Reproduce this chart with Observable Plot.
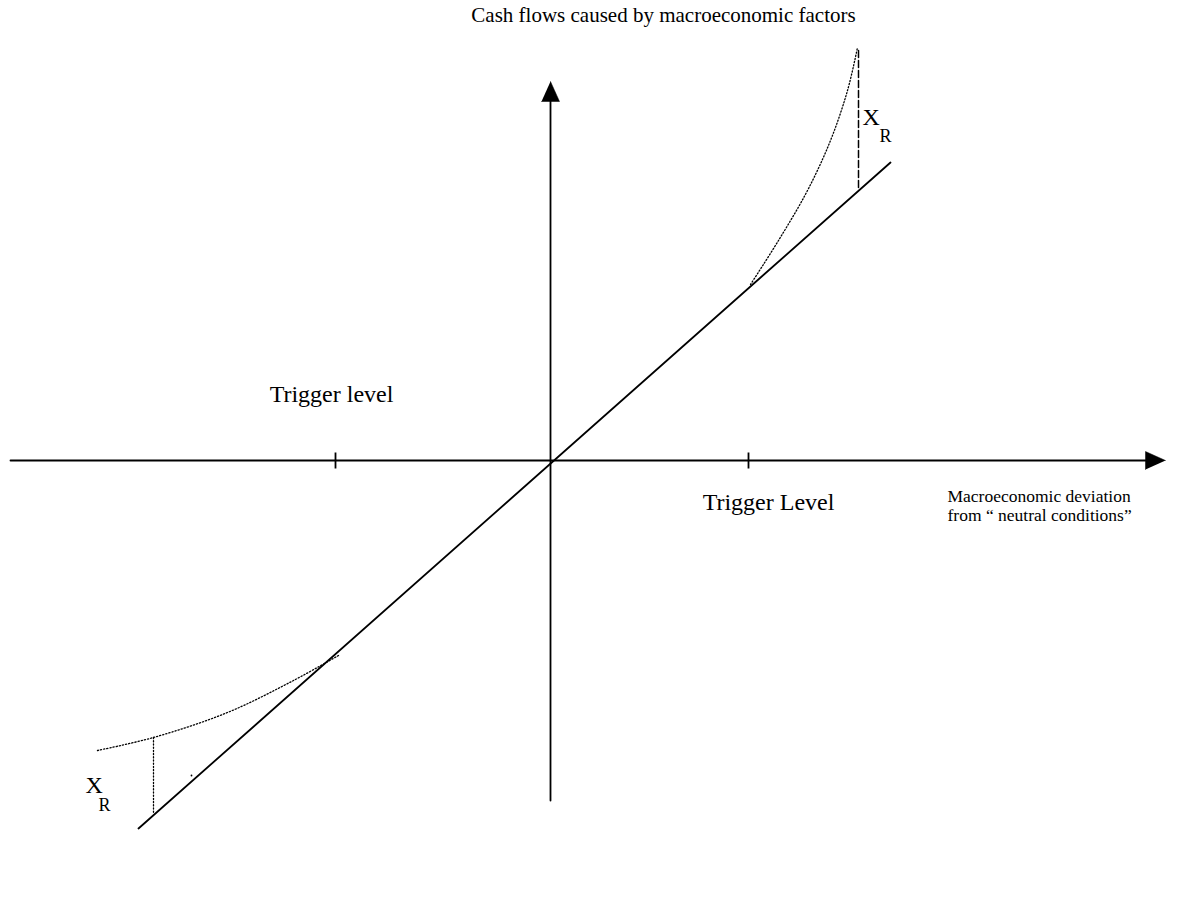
<!DOCTYPE html>
<html>
<head>
<meta charset="utf-8">
<script src="https://cdn.jsdelivr.net/npm/d3@7"></script>
<script src="https://cdn.jsdelivr.net/npm/@observablehq/plot@0.6"></script>
<style>
  html, body { margin: 0; padding: 0; background: #fff; }
  #chart svg { display: block; }
</style>
</head>
<body>
<div id="chart"></div>
<script>
// ---- Data (abstract units, origin at the crossing of the two axes) ----
const xDomain = [-550, 627];
const yDomain = [-449, 460];

// axes: [start, arrow tip]
const hAxisX = [-540, 615];
const vAxisY = [-340, 379];
const arrowLength = 20;
const arrowHalfWidth = 9;

// trigger level tick positions on the horizontal axis
const triggerX = [-215, 198];
const tickHalf = 8;

// linear (no hedge) cash-flow line
const linearX = [-412, 340];
const linearY = [-368, 298];

// upper (convex) dotted curve
const upperCurveX = [200, 228, 257, 280, 297, 307];
const upperCurveY = [176, 220, 270, 320, 370, 413];

// lower dotted curve
const lowerCurveX = [-453, -397, -323, -257, -212];
const lowerCurveY = [-290, -277, -252, -220, -195];

// X_R gap markers
const upperGapX = [308, 308];
const upperGapY = [273, 410];
const lowerGapX = [-397, -397];
const lowerGapY = [-277, -353];
const strayDot = [{x: -359, y: -315}];

// labels
const titleText = "Cash flows caused by macroeconomic factors";
const titlePos = {x: 113, y: 439};
const triggerLabels = ["Trigger level", "Trigger Level"];
const triggerLabelX = [-219, 218];
const triggerLabelY = [59, -49];
const axisLabel = "Macroeconomic deviation\nfrom \u201c neutral conditions\u201d";
const axisLabelPos = {x: 397, y: -60};
const xrLabels = [
  {x: 312, y: 336, s: "X", big: true},
  {x: 329, y: 319, s: "R", big: false},
  {x: -465, y: -332, s: "X", big: true},
  {x: -452, y: -350, s: "R", big: false}
];

// ---- Build tables ----
const pairs = (xs, ys) => xs.map((x, i) => ({x, y: ys[i]}));
const arrows = [
  {id: "h", pts: [
    {x: hAxisX[1], y: 0},
    {x: hAxisX[1] - arrowLength, y: arrowHalfWidth},
    {x: hAxisX[1] - arrowLength, y: -arrowHalfWidth}]},
  {id: "v", pts: [
    {x: 0, y: vAxisY[1]},
    {x: arrowHalfWidth, y: vAxisY[1] - arrowLength},
    {x: -arrowHalfWidth, y: vAxisY[1] - arrowLength}]}
].flatMap(a => a.pts.map(p => ({...p, id: a.id})));

const font = "Liberation Serif, Times New Roman, serif";

const chart = Plot.plot({
  width: 1177,
  height: 909,
  margin: 0,
  x: {domain: xDomain, axis: null},
  y: {domain: yDomain, axis: null},
  style: {fontFamily: font, background: "#fff", color: "#000"},
  marks: [
    // horizontal axis
    Plot.line([{x: hAxisX[0], y: 0}, {x: hAxisX[1] - arrowLength, y: 0}], {x: "x", y: "y", stroke: "#000", strokeWidth: 1.8}),
    // vertical axis
    Plot.line([{x: 0, y: vAxisY[0]}, {x: 0, y: vAxisY[1] - arrowLength}], {x: "x", y: "y", stroke: "#000", strokeWidth: 1.8}),
    // arrowheads
    Plot.line(arrows, {x: "x", y: "y", z: "id", fill: "#000", stroke: "#000", strokeWidth: 0.5}),
    // trigger ticks
    Plot.link(triggerX, {x1: d => d, x2: d => d, y1: -tickHalf, y2: tickHalf, stroke: "#000", strokeWidth: 1.8}),
    // linear line
    Plot.line(pairs(linearX, linearY), {x: "x", y: "y", stroke: "#000", strokeWidth: 1.8}),
    // dotted curves
    Plot.line(pairs(upperCurveX, upperCurveY), {x: "x", y: "y", curve: "catmull-rom", stroke: "#000", strokeWidth: 1.3, strokeDasharray: "1.2,2"}),
    Plot.line(pairs(lowerCurveX, lowerCurveY), {x: "x", y: "y", curve: "catmull-rom", stroke: "#000", strokeWidth: 1.3, strokeDasharray: "1.2,2"}),
    // gap markers
    Plot.line(pairs(upperGapX, upperGapY), {x: "x", y: "y", stroke: "#000", strokeWidth: 1.5, strokeDasharray: "7,3"}),
    Plot.line(pairs(lowerGapX, lowerGapY), {x: "x", y: "y", stroke: "#000", strokeWidth: 1.3, strokeDasharray: "1.2,2"}),
    Plot.dot(strayDot, {x: "x", y: "y", r: 0.9, fill: "#000", stroke: null}),
    // title
    Plot.text([titleText], {x: titlePos.x, y: titlePos.y, text: d => d, textAnchor: "middle", lineAnchor: "bottom", fontSize: 21, fill: "#000"}),
    // trigger labels
    Plot.text(triggerLabels, {x: (d, i) => triggerLabelX[i], y: (d, i) => triggerLabelY[i], text: d => d, textAnchor: "middle", lineAnchor: "bottom", fontSize: 24, fill: "#000"}),
    // axis label
    Plot.text([axisLabel], {x: axisLabelPos.x, y: axisLabelPos.y, text: d => d, textAnchor: "start", lineAnchor: "bottom", fontSize: 17.5, lineHeight: 1.08, fill: "#000"}),
    // X_R labels
    Plot.text(xrLabels, {x: "x", y: "y", text: "s", textAnchor: "start", lineAnchor: "bottom", fontSize: d => d.big ? 24 : 18, fill: "#000"})
  ]
});
document.getElementById("chart").append(chart);
</script>
</body>
</html>
